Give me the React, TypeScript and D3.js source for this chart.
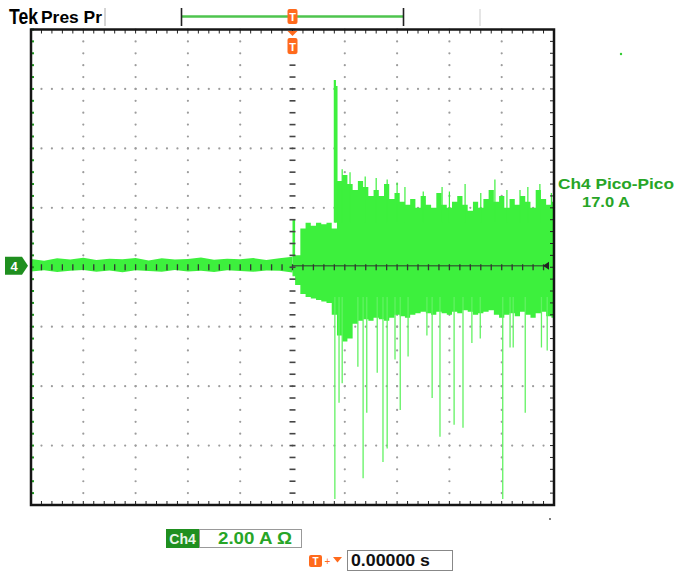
import React, { useEffect, useRef } from 'react';
import * as d3 from 'd3';

// Ch4 current trace, time in screen divisions from the trigger, current in A (2.00 A/div)
const timeDomain = [-5, 5];
const ampDomain = [-8, 8];

// pre-trigger noise band, one sample every 0.25 div from -5 to 0
const preStep = 0.25;
const preUpper = [0.28, 0.22, 0.3, 0.26, 0.32, 0.24, 0.29, 0.27, 0.31, 0.23, 0.3, 0.26, 0.28, 0.33, 0.25, 0.29, 0.27, 0.31, 0.24, 0.3, 0.35];
const preLower = [-0.14, -0.1, -0.16, -0.12, -0.09, -0.15, -0.11, -0.17, -0.1, -0.13, -0.15, -0.09, -0.14, -0.12, -0.16, -0.1, -0.13, -0.15, -0.11, -0.12, -0.18];

// post-trigger envelope, one sample every 0.1 div from 0 to 5
const postStep = 0.1;
const postUpper = [
  1.6, 0.4, 1.3, 1.5, 1.4, 1.5, 1.45, 1.5, 1.3, 2.9,
  3.1, 2.8, 2.6, 2.9, 2.7, 2.4, 2.6, 2.4, 2.8, 2.3,
  2.5, 2.2, 2.1, 2.3, 2.0, 2.4, 2.1, 2.0, 2.5, 2.1,
  2.0, 2.2, 2.4, 2.1, 1.9, 2.2, 2.0, 2.3, 2.6, 2.2,
  2.4, 2.0, 2.3, 2.1, 2.4, 2.2, 2.0, 2.6, 2.3, 2.1, 2.2,
];
const postLower = [
  -0.3, -0.6, -0.9, -1.0, -1.05, -1.1, -1.15, -1.2, -1.6, -2.3,
  -2.5, -2.4, -1.9, -1.8, -1.75, -1.8, -1.7, -1.75, -1.8, -1.7,
  -1.6, -1.65, -1.7, -1.6, -1.55, -1.5, -1.55, -1.6, -1.5, -1.55,
  -1.6, -1.5, -1.55, -1.45, -1.5, -1.6, -1.55, -1.5, -1.45, -1.6,
  -1.7, -1.6, -1.55, -1.65, -1.5, -1.6, -1.7, -1.55, -1.5, -1.65, -1.7,
];

// isolated spikes
const spikeUpTimes = [0.81, 0.84, 0.95, 1.1, 1.39, 1.6, 1.81, 2.0, 2.15, 2.5, 2.86, 3.0, 3.3, 3.6, 3.87, 4.1, 4.35, 4.5, 4.73, 4.95];
const spikeUpAmps = [6.3, 6.1, 3.3, 3.2, 3.05, 3.0, 2.95, 2.85, 2.7, 2.55, 2.7, 2.55, 2.8, 2.5, 2.95, 2.6, 2.6, 2.7, 2.8, 2.5];
const spikeDownTimes = [0.81, 0.89, 0.95, 1.25, 1.35, 1.42, 1.62, 1.73, 1.81, 1.96, 2.06, 2.21, 2.57, 2.67, 2.82, 3.09, 3.26, 3.43, 3.59, 4.02, 4.16, 4.22, 4.45, 4.76, 4.87];
const spikeDownAmps = [-7.8, -4.56, -3.9, -3.35, -7.1, -4.9, -3.55, -6.55, -6.1, -3.1, -4.8, -3.0, -2.3, -4.4, -5.7, -5.3, -5.4, -2.55, -2.4, -7.8, -2.7, -2.7, -4.9, -2.7, -2.8];

const brandLabel = 'Tek';
const modeLabel = 'Pres Pr';
const measureName = 'Ch4 Pico-Pico';
const measureValue = '17.0 A';
const channelLabel = 'Ch4';
const scaleLabel = '2.00 A \u03a9';
const delayLabel = '0.00000 s';

const TRACE = '#3df03d';
const DARK_GREEN = '#1f8f1f';
const TEXT_GREEN = '#27a527';
const ORANGE = '#ff6a1c';
const FONT = '"Liberation Sans", Arial, sans-serif';

const App = () => {
  const svgRef = useRef<SVGSVGElement>(null);
  const width = 678;
  const height = 573;

  useEffect(() => {
    const svg = d3.select(svgRef.current);
    svg.selectAll('*').remove();

    const x = d3.scaleLinear().domain(timeDomain).range([31, 554]);
    const y = d3.scaleLinear().domain(ampDomain).range([505, 29.5]);
    const x0 = x(-5), x1 = x(5), y0 = y(8), y1 = y(-8);

    svg.append('rect').attr('width', width).attr('height', height).attr('fill', '#fff');

    // dotted graticule
    const grid = svg.append('g');
    const minorT = d3.range(-5, 5.001, 0.2);
    const minorA = d3.range(-8, 8.001, 0.4);
    [-4, -3, -2, -1, 1, 2, 3, 4].forEach(t => {
      grid.selectAll(null).data(minorA).join('circle')
        .attr('cx', x(t)).attr('cy', d => y(d)).attr('r', 1.1).attr('fill', '#9c9c9c');
    });
    [-6, -4, -2, 2, 4, 6].forEach(a => {
      grid.selectAll(null).data(minorT).join('circle')
        .attr('cx', d => x(d)).attr('cy', y(a)).attr('r', 1.1).attr('fill', '#9c9c9c');
    });

    // trace
    const trace = svg.append('g');
    const preIdx = preUpper.map((_, i) => i);
    const postIdx = postUpper.map((_, i) => i);
    trace.append('path')
      .attr('fill', TRACE)
      .attr('d', d3.area<number>()
        .curve(d3.curveLinear)
        .x(i => x(-5 + i * preStep))
        .y0(i => y(preLower[i]))
        .y1(i => y(preUpper[i]))(preIdx));
    trace.append('path')
      .attr('fill', TRACE)
      .attr('d', d3.area<number>()
        .curve(d3.curveStep)
        .x(i => x(i * postStep))
        .y0(i => y(postLower[i]))
        .y1(i => y(postUpper[i]))(postIdx));

    trace.selectAll('.up').data(spikeUpTimes).join('line')
      .attr('x1', d => x(d)).attr('x2', d => x(d))
      .attr('y1', y(1.5)).attr('y2', (d, i) => y(spikeUpAmps[i]))
      .attr('stroke', TRACE).attr('stroke-width', (d, i) => (i < 2 ? 2.2 : 1.2));
    trace.selectAll('.down').data(spikeDownTimes).join('line')
      .attr('x1', d => x(d)).attr('x2', d => x(d))
      .attr('y1', y(-1)).attr('y2', (d, i) => y(spikeDownAmps[i]))
      .attr('stroke', '#62f262').attr('stroke-width', 1.3);

    // center cross with minor ticks
    const axis = svg.append('g').attr('fill', 'none');
    axis.append('line')
      .attr('x1', x(0)).attr('x2', x1 - 6).attr('y1', y(0.05)).attr('y2', y(0.05))
      .attr('stroke', '#2e5e2e').attr('stroke-width', 1.4).attr('opacity', 0.85);
    axis.selectAll('.ct').data(minorT).join('line')
      .attr('x1', d => x(d)).attr('x2', d => x(d))
      .attr('y1', y(0) - 3).attr('y2', y(0) + 3)
      .attr('stroke', '#333').attr('stroke-width', 1.3);
    axis.selectAll('.ca').data(minorA).join('line')
      .attr('x1', x(0) - 3).attr('x2', x(0) + 3)
      .attr('y1', d => y(d)).attr('y2', d => y(d))
      .attr('stroke', '#444').attr('stroke-width', 1.6);

    // border ticks
    axis.selectAll('.tt').data(minorT).join('line')
      .attr('x1', d => x(d)).attr('x2', d => x(d)).attr('y1', y0).attr('y2', y0 + 4)
      .attr('stroke', '#222').attr('stroke-width', 1);
    axis.selectAll('.bt').data(minorT).join('line')
      .attr('x1', d => x(d)).attr('x2', d => x(d)).attr('y1', y1).attr('y2', y1 - 4)
      .attr('stroke', '#222').attr('stroke-width', 1);
    axis.selectAll('.rt').data(minorA).join('line')
      .attr('x1', x1).attr('x2', x1 - 4).attr('y1', d => y(d)).attr('y2', d => y(d))
      .attr('stroke', '#222').attr('stroke-width', 1);
    axis.selectAll('.lt').data(minorA).join('line')
      .attr('x1', x0).attr('x2', x0 + 3).attr('y1', d => y(d)).attr('y2', d => y(d))
      .attr('stroke', '#1c9a1c').attr('stroke-width', 2);

    svg.append('rect')
      .attr('x', x0).attr('y', y0).attr('width', x1 - x0).attr('height', y1 - y0)
      .attr('fill', 'none').attr('stroke', '#151515').attr('stroke-width', 2.5);

    // ground reference arrow at the right edge
    svg.append('path')
      .attr('d', `M${x1 - 11},${y(0.05)} l6,-4 v8 z`).attr('fill', '#222');

    // ground marker on the left
    const gy = y(0.05);
    svg.append('path')
      .attr('d', `M5,${gy - 9} H22 L28,${gy} L22,${gy + 9} H5 Z`)
      .attr('fill', DARK_GREEN);
    svg.append('text')
      .attr('x', 14).attr('y', gy + 5).attr('text-anchor', 'middle')
      .style('font-family', FONT).style('font-weight', 'bold').style('font-size', '13px')
      .attr('fill', '#fff').text('4');

    // header
    svg.append('text').attr('x', 9).attr('y', 24)
      .attr('textLength', 29).attr('lengthAdjust', 'spacingAndGlyphs')
      .style('font-family', FONT).style('font-weight', 'bold')
      .style('font-size', '22px').attr('fill', '#000')
      .text(brandLabel);
    svg.append('text').attr('x', 41).attr('y', 23)
      .attr('textLength', 61).attr('lengthAdjust', 'spacingAndGlyphs')
      .style('font-family', FONT).style('font-weight', 'bold').style('font-size', '17px')
      .attr('fill', '#000').text(modeLabel);
    svg.append('line').attr('x1', 105).attr('x2', 105).attr('y1', 8).attr('y2', 26)
      .attr('stroke', '#aaa').attr('stroke-width', 1);
    svg.append('line').attr('x1', 480).attr('x2', 480).attr('y1', 9).attr('y2', 26)
      .attr('stroke', '#ccc').attr('stroke-width', 1);

    // record bar
    svg.append('line').attr('x1', 182).attr('x2', 403).attr('y1', 16.5).attr('y2', 16.5)
      .attr('stroke', '#4ec44e').attr('stroke-width', 2.5);
    [181.5, 403.5].forEach(bx => {
      svg.append('line').attr('x1', bx).attr('x2', bx).attr('y1', 8).attr('y2', 26)
        .attr('stroke', '#222').attr('stroke-width', 1.6);
    });

    const triggerMark = (cx: number, top: number, h: number) => {
      svg.append('rect').attr('x', cx - 5).attr('y', top).attr('width', 10).attr('height', h)
        .attr('rx', 2).attr('fill', ORANGE);
      svg.append('text').attr('x', cx).attr('y', top + h - 3).attr('text-anchor', 'middle')
        .style('font-family', FONT).style('font-weight', 'bold').style('font-size', '11px')
        .attr('fill', '#fff').text('T');
    };
    triggerMark(x(0), 9, 15);
    svg.append('path').attr('d', `M${x(0) - 5},31 h10 l-5,5 z`).attr('fill', ORANGE);
    triggerMark(x(0), 38, 16);

    // measurement readout
    svg.append('text').attr('x', 616).attr('y', 189).attr('text-anchor', 'middle')
      .attr('textLength', 116).attr('lengthAdjust', 'spacingAndGlyphs')
      .style('font-family', FONT).style('font-weight', 'bold').style('font-size', '15px')
      .attr('fill', TEXT_GREEN).text(measureName);
    svg.append('text').attr('x', 606).attr('y', 207).attr('text-anchor', 'middle')
      .attr('textLength', 48).attr('lengthAdjust', 'spacingAndGlyphs')
      .style('font-family', FONT).style('font-weight', 'bold').style('font-size', '15px')
      .attr('fill', TEXT_GREEN).text(measureValue);

    svg.append('circle').attr('cx', 621).attr('cy', 54).attr('r', 1.2).attr('fill', '#3c3');
    svg.append('circle').attr('cx', 550).attr('cy', 519).attr('r', 1).attr('fill', '#555');

    // channel scale box
    svg.append('rect').attr('x', 166).attr('y', 529).attr('width', 33).attr('height', 19)
      .attr('fill', DARK_GREEN);
    svg.append('text').attr('x', 182.5).attr('y', 543.5).attr('text-anchor', 'middle')
      .style('font-family', FONT).style('font-weight', 'bold').style('font-size', '14px')
      .attr('fill', '#e8f5e8').text(channelLabel);
    svg.append('rect').attr('x', 199.5).attr('y', 529.5).attr('width', 102).attr('height', 18)
      .attr('fill', '#fff').attr('stroke', '#999');
    svg.append('text').attr('x', 218).attr('y', 544)
      .attr('textLength', 74).attr('lengthAdjust', 'spacingAndGlyphs')
      .style('font-family', FONT).style('font-weight', 'bold').style('font-size', '16px')
      .attr('fill', TEXT_GREEN).text(scaleLabel);

    // trigger delay box
    svg.append('rect').attr('x', 309).attr('y', 555).attr('width', 13).attr('height', 12)
      .attr('rx', 2).attr('fill', ORANGE);
    svg.append('text').attr('x', 315.5).attr('y', 565).attr('text-anchor', 'middle')
      .style('font-family', FONT).style('font-weight', 'bold').style('font-size', '10px')
      .attr('fill', '#fff').text('T');
    svg.append('text').attr('x', 327.5).attr('y', 565).attr('text-anchor', 'middle')
      .style('font-family', FONT).style('font-size', '10px').attr('fill', ORANGE).text('+');
    svg.append('path').attr('d', 'M333,557 h9 l-4.5,5.5 z').attr('fill', ORANGE);
    svg.append('rect').attr('x', 347.5).attr('y', 550.5).attr('width', 105).attr('height', 20)
      .attr('fill', '#fff').attr('stroke', '#888');
    svg.append('text').attr('x', 351).attr('y', 566)
      .attr('textLength', 79).attr('lengthAdjust', 'spacingAndGlyphs')
      .style('font-family', FONT).style('font-weight', 'bold').style('font-size', '17px')
      .attr('fill', '#111').text(delayLabel);
  }, []);

  return (
    <svg
      ref={svgRef}
      width={width}
      height={height}
      style={{ position: 'absolute', left: 0, top: 0 }}
    />
  );
};

export default App;
